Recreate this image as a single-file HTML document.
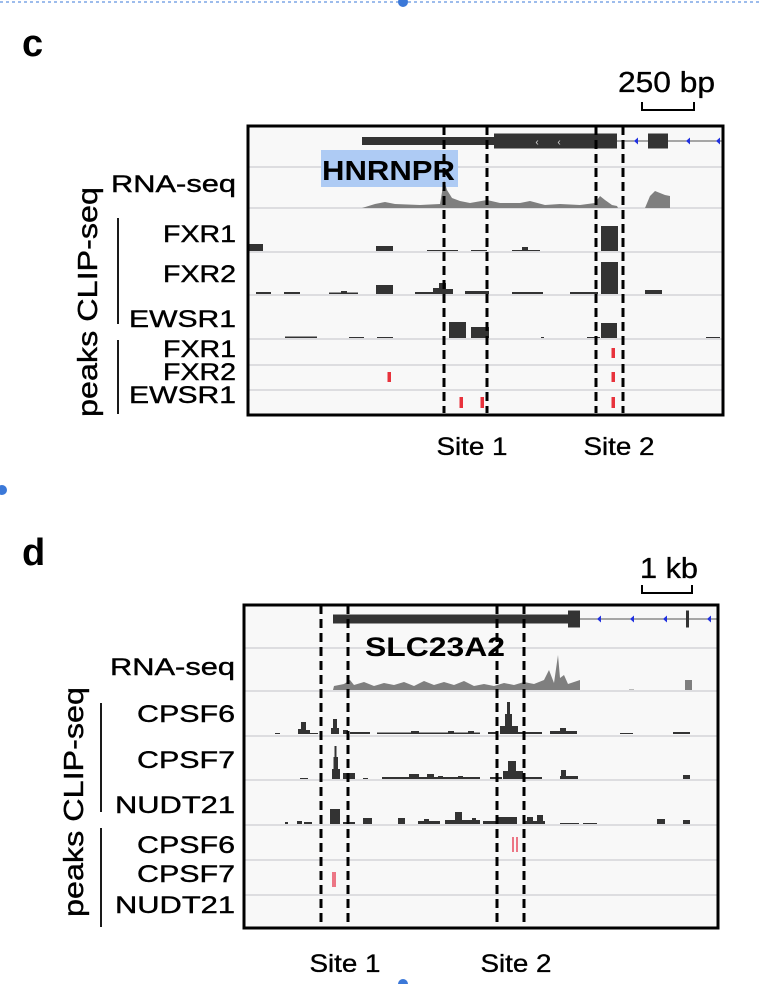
<!DOCTYPE html>
<html><head><meta charset="utf-8"><style>
html,body{margin:0;padding:0;background:#fff;}
svg{display:block;font-family:"Liberation Sans",Arial,sans-serif;}
</style></head><body>
<svg id="fig" width="762" height="984" viewBox="0 0 762 984" xmlns="http://www.w3.org/2000/svg">
<line x1="0" y1="2" x2="762" y2="2" stroke="#3b78d8" stroke-dasharray="3,3" stroke-width="1"/>
<circle cx="403" cy="2" r="5" fill="#3b78d8"/>
<circle cx="2" cy="490" r="5" fill="#3b78d8"/>
<circle cx="403" cy="984" r="5" fill="#3b78d8"/>
<text x="22" y="56" font-size="38" font-weight="bold">c</text>
<text x="22" y="565" font-size="38" font-weight="bold">d</text>
<g id="pc"></g>
<g id="pd"></g>
</svg>
<script>
// ---------- Panel c data (bp) ----------
const cDomain = [0, 2375];
const cRna = [[570,0],[635,4],[685,6],[735,4],[860,3],[960,4],[965,10],[980,28],[995,18],[1020,10],[1060,7],[1110,5],[1195,8],[1260,5],[1360,5],[1410,7],[1485,3],[1560,4],[1660,3],[1735,5],[1760,12],[1785,8],[1820,3],[1845,2],[1850,0]];
const cRna2 = [[1985,0],[2010,12],[2035,17],[2085,13],[2110,12],[2110,0]];
const cFXR1 = [[0,75,7],[640,725,5],[895,1050,1],[1115,1195,1],[1320,1460,1],[1370,1400,4],[1765,1850,25]];
const cFXR2 = [[40,115,2],[180,260,2],[405,550,1.5],[465,495,3],[640,725,9],[835,925,2],[925,985,6],[955,990,11],[985,1025,5],[1085,1205,3],[1320,1475,2],[1610,1750,2],[1765,1850,32],[1985,2070,4]];
const cEWSR1 = [[185,345,1.5],[505,580,1],[645,725,1],[1005,1090,16],[1115,1205,11],[1465,1480,1],[1695,1760,1],[1765,1845,15],[2290,2360,1]];
const cPeakFXR1 = [1825];
const cPeakFXR2 = [705,1825];
const cPeakEWSR1 = [1065,1170,1825];
const cGeneUtr = [570,1230];
const cGeneCds = [1230,1845];
const cGeneExon2 = [2000,2100];
const cArrows = [1940,2200,2350];
const cSites = [[980,1195],[1740,1875]];
const cSiteLabels = ["Site 1","Site 2"];
// ---------- Panel d data (bp) ----------
const dDomain = [0, 9480];
const dRna = [[1780,0],[1800,4],[2000,6],[2120,10],[2200,5],[2400,8],[2600,4],[2800,7],[3000,5],[3200,8],[3400,4],[3600,9],[3800,5],[4000,8],[4200,5],[4400,9],[4600,4],[4800,6],[5000,4],[5200,7],[5400,5],[5600,8],[5800,6],[6000,10],[6100,20],[6200,7],[6280,35],[6320,12],[6400,15],[6480,6],[6600,8],[6720,10],[6720,0]];
const dRna2 = [[8820,0],[8820,10],[8960,10],[8960,0]];
const dCPSF6 = [[620,720,1],[1080,1160,5],[1140,1240,12],[1200,1320,4],[1320,1480,1],[1740,1800,6],[1780,1860,15],[1840,1900,6],[1980,2080,4],[2120,2520,2],[2660,4720,1.5],[3340,3500,3],[4080,4200,3],[4480,4600,3],[4880,5080,2],[5120,5480,8],[5220,5360,20],[5260,5320,32],[5480,5960,2],[6120,6660,3],[6320,6440,6],[7520,7780,1],[8580,8920,2]];
const dCPSF7 = [[1120,1280,1],[1760,1920,10],[1790,1880,22],[1810,1850,33],[1980,2220,6],[2380,2480,1],[2760,4720,2],[3300,3500,5],[3660,3800,5],[3880,3980,3],[4280,4380,3],[4920,5160,2],[5180,5580,8],[5280,5440,18],[5580,5960,2],[6320,6680,3],[6340,6440,9],[8780,8920,4]];
const dNUDT21 = [[820,880,2],[1060,1160,3],[1200,1360,2],[1720,1920,15],[1980,2220,2],[2380,2560,6],[3080,3220,6],[3480,3920,3],[3600,3700,5],[4020,4720,4],[4220,4360,12],[4560,4640,6],[4780,5460,3],[5060,5460,7],[5580,6020,3],[5660,5780,7],[5860,5980,9],[6320,6700,1],[6780,7060,1],[8260,8420,5],[8780,8920,4]];
const dPeakCPSF6 = [5380,5460];
const dPeakCPSF7 = [1780,1820];
const dGeneUtr = [1780,6480];
const dGeneExon = [6480,6720];
const dGeneExon2 = [8840,8900];
const dArrows = [7100,7760,8420,9300];
const dSites = [[1540,2080],[5060,5600]];
const dSiteLabels = ["Site 1","Site 2"];

const NS="http://www.w3.org/2000/svg";
function mk(parent,tag,attrs,name,inter){const e=document.createElementNS(NS,tag);for(const k in attrs)e.setAttribute(k,attrs[k]);


parent.appendChild(e);return e;}

function panel(g,cfg){
  const L=cfg.box[0],R=cfg.box[1],T=cfg.box[2],B=cfg.box[3];
  const x=v=>L+(v-cfg.domain[0])/(cfg.domain[1]-cfg.domain[0])*(R-L);
  mk(g,'rect',{x:L,y:T,width:R-L,height:B-T,fill:'#f8f8f8'},'browser-background',false);
  cfg.seps.forEach(s=>mk(g,'line',{x1:L,x2:R,y1:s,y2:s,stroke:'#d4d4d8','stroke-width':1.5},'track-separator',false));
  const gy=cfg.geneY;
  mk(g,'line',{x1:x(cfg.intron[0]),x2:R,y1:gy,y2:gy,stroke:'#555','stroke-width':1},'gene-intron',false);
  cfg.arrows.forEach(a=>mk(g,'path',{d:`M${x(a)-2},${gy} l4,-3.5 v7 z`,fill:'#2030e0'},'strand-arrow',false));
  cfg.geneBlocks.forEach(b=>mk(g,'rect',{x:x(b[0]),y:gy-b[2]/2,width:Math.max(3,x(b[1])-x(b[0])),height:b[2],fill:'#333'},'gene-exon',false));
  (cfg.cdsArrows||[]).forEach(a=>mk(g,'text',{x:x(a),y:gy+4,'font-size':10,fill:'#ddd','text-anchor':'middle'},'cds-arrow',false).textContent='‹');
  if(cfg.hl) mk(g,'rect',{x:cfg.hl[0],y:cfg.hl[1],width:cfg.hl[2],height:cfg.hl[3],fill:'#aecbf4'},'gene-name-highlight',false);
  cfg.rna.forEach(arr=>{let d='';arr.forEach((p,i)=>{d+=(i?'L':'M')+x(p[0])+','+(cfg.rnaBase-p[1]);});
    mk(g,'path',{d:d+'Z',fill:'#7f7f7f'},'rna-seq-coverage',false);});
  if(cfg.smallRna) mk(g,'rect',{x:x(cfg.smallRna[0]),y:cfg.rnaBase-1,width:x(cfg.smallRna[1])-x(cfg.smallRna[0]),height:1,fill:'#bbb'},'rna-seq-coverage',false);
  cfg.clip.forEach(t=>t.data.forEach(b=>mk(g,'rect',{x:x(b[0]),y:t.base-b[2],width:Math.max(1,x(b[1])-x(b[0])),height:b[2],fill:'#333'},'clip-coverage-'+t.name,false)));
  cfg.peaks.forEach(t=>t.data.forEach(p=>{
    if(cfg.peakLine){mk(g,'rect',{x:x(p)-0.75,y:t.y0,width:1.5,height:t.y1-t.y0,fill:'#e84a5f'},'peak-'+t.name,false);}
    else mk(g,'rect',{x:x(p)-1.5,y:t.y0,width:3.5,height:t.y1-t.y0,fill:'#e8323c'},'peak-'+t.name,false);}));
  mk(g,'rect',{x:L,y:T,width:R-L,height:B-T,fill:'none',stroke:'#000','stroke-width':3},'browser-frame',false);
  const nm=mk(g,'text',{x:cfg.nameXY[0],y:cfg.nameXY[1],'font-size':cfg.hlSize,'font-weight':'bold',textLength:cfg.nameW,lengthAdjust:'spacingAndGlyphs'},'gene-name',false);nm.textContent=cfg.geneName;
  cfg.sites.forEach((s,i)=>{
    s.forEach(v=>mk(g,'line',{x1:x(v),x2:x(v),y1:T,y2:B-2,stroke:'#000','stroke-width':3,'stroke-dasharray':'9,5'},'site-boundary',false));
    mk(g,'line',{x1:x(s[0]),x2:x(s[1]),y1:T,y2:T,stroke:'#000','stroke-width':2,'stroke-dasharray':'9,5'},'site-box-top',false);
    const cx=(x(s[0])+x(s[1]))/2+cfg.siteDx[i];
    const t=mk(g,'text',{x:cx-35,y:cfg.siteY,'font-size':25,textLength:71,lengthAdjust:'spacingAndGlyphs',stroke:'#000','stroke-width':0.35},'site-label',false);t.textContent=cfg.siteLabels[i];});
  cfg.labels.forEach(l=>{const t=mk(g,'text',{x:cfg.labelX-l[2],y:l[1],'font-size':24,textLength:l[2],lengthAdjust:'spacingAndGlyphs',stroke:'#000','stroke-width':0.4},'track-label',false);t.textContent=l[0];});
  const vt=mk(g,'text',{x:-115,y:0,'font-size':28,textLength:230,lengthAdjust:'spacingAndGlyphs',stroke:'#000','stroke-width':0.4,transform:`translate(${cfg.vt[0]},${cfg.vt[1]}) rotate(-90)`},'y-axis-title',false);vt.textContent='peaks CLIP-seq';
  cfg.brackets.forEach(b=>{mk(g,'line',{x1:b[0],x2:b[0],y1:b[1],y2:b[2],stroke:'#000','stroke-width':1.8},'group-bracket',false);});
  const sb=cfg.scale;
  mk(g,'path',{d:`M${sb[0]},${sb[2]} V${sb[2]+8} H${sb[1]} V${sb[2]}`,fill:'none',stroke:'#000','stroke-width':2},'scale-bar',false);
  const st=mk(g,'text',{x:sb[5],y:sb[3],'font-size':29,textLength:sb[6],lengthAdjust:'spacingAndGlyphs',stroke:'#000','stroke-width':0.35},'scale-bar-label',false);st.textContent=sb[4];
}

panel(document.getElementById('pc'),{
  box:[248,723,126,415],domain:cDomain,seps:[167,208,252,295,339,365,390],geneY:141,
  intron:[1845],arrows:cArrows,
  geneBlocks:[[cGeneUtr[0],cGeneUtr[1],8],[cGeneCds[0],cGeneCds[1],15],[cGeneExon2[0],cGeneExon2[1],15]],
  cdsArrows:[1445,1555],
  hl:[321,150,137,37],hlSize:28,geneName:'HNRNPR',nameXY:[322,180],nameW:133,
  rna:[cRna,cRna2],rnaBase:208,
  clip:[{name:'fxr1',data:cFXR1,base:251},{name:'fxr2',data:cFXR2,base:294},{name:'ewsr1',data:cEWSR1,base:338}],
  peaks:[{name:'fxr1',data:cPeakFXR1,y0:348,y1:358},{name:'fxr2',data:cPeakFXR2,y0:372,y1:382},{name:'ewsr1',data:cPeakEWSR1,y0:397,y1:408}],
  sites:cSites,siteLabels:cSiteLabels,siteY:455,siteDx:[6,9],
  labels:[['RNA-seq',192,125],['FXR1',242,73],['FXR2',282,73],['EWSR1',327,107],['FXR1',357,73],['FXR2',380,73],['EWSR1',403,107]],labelX:236,
  vt:[97,302],brackets:[[118,218,324],[118,340,414]],
  scale:[642,694,102,92,'250 bp',618,97]
});
panel(document.getElementById('pd'),{
  box:[244,718,605,928],domain:dDomain,seps:[648,691,736,780,825,860,895],geneY:619,
  intron:[6720],arrows:dArrows,
  geneBlocks:[[dGeneUtr[0],dGeneUtr[1],9],[dGeneExon[0],dGeneExon[1],17],[dGeneExon2[0],dGeneExon2[1],17]],
  hl:null,nameXY:[365,656],hlSize:27,geneName:'SLC23A2',nameW:140,
  rna:[dRna,dRna2],rnaBase:690,smallRna:[7700,7800],
  clip:[{name:'cpsf6',data:dCPSF6,base:734},{name:'cpsf7',data:dCPSF7,base:779},{name:'nudt21',data:dNUDT21,base:824}],
  peaks:[{name:'cpsf6',data:dPeakCPSF6,y0:837,y1:852},{name:'cpsf7',data:dPeakCPSF7,y0:872,y1:887}],peakLine:true,
  sites:dSites,siteLabels:dSiteLabels,siteY:972,siteDx:[10,5],
  labels:[['RNA-seq',675,125],['CPSF6',722,98],['CPSF7',768,98],['NUDT21',813,120],['CPSF6',853,98],['CPSF7',882,98],['NUDT21',913,120]],labelX:235,
  vt:[83,802],brackets:[[101,703,812],[101,828,927]],
  scale:[642,692,585,578,'1 kb',640,58]
});
</script>
</body></html>
